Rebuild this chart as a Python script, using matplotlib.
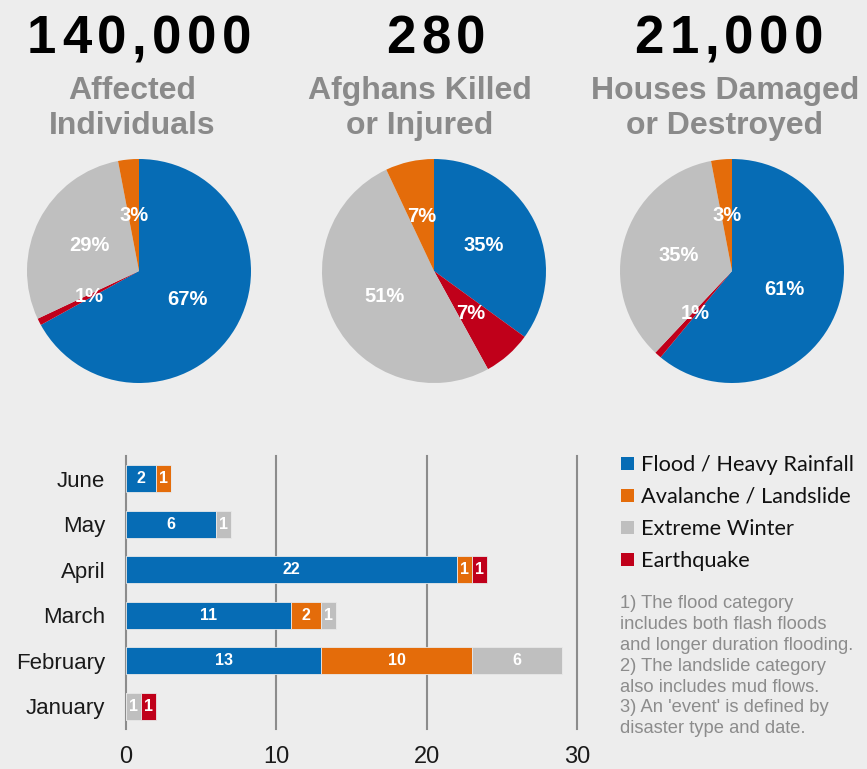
import matplotlib
matplotlib.use("Agg")
import matplotlib.pyplot as plt
from matplotlib.patches import Patch
import numpy as np

# colours per disaster type
categories = ["Flood / Heavy Rainfall", "Avalanche / Landslide", "Extreme Winter", "Earthquake"]
colors = ["#066cb5", "#e46c0a", "#bfbfbf", "#c0001a"]

# pie data, in clockwise order from 12 o'clock: flood, earthquake, winter, avalanche
pie_order = [0, 3, 2, 1]
pie_totals = ["140,000", "280", "21,000"]
pie_titles = [["Affected", "Individuals"], ["Afghans Killed", "or Injured"], ["Houses Damaged", "or Destroyed"]]
pie_affected = [67, 1, 29, 3]
pie_casualties = [35, 7, 51, 7]
pie_houses = [61, 1, 35, 3]

# bar data (events per month)
months = ["January", "February", "March", "April", "May", "June"]
flood = [0, 13, 11, 22, 6, 2]
avalanche = [0, 10, 2, 1, 0, 1]
winter = [1, 6, 1, 0, 1, 0]
quake = [1, 0, 0, 1, 0, 0]

notes = ("1) The flood category\nincludes both flash floods\nand longer duration flooding.\n"
         "2) The landslide category\nalso includes mud flows.\n"
         "3) An 'event' is defined by\ndisaster type and date.")

W, H = 867, 769
bg = "#ededed"
fig = plt.figure(figsize=(W / 100, H / 100), dpi=100, facecolor=bg)
plt.rcParams["font.family"] = ["Liberation Sans", "DejaVu Sans"]


def box(l, t, r, b):
    # pixel box (top-left origin) -> figure fraction rect
    return [l / W, 1 - b / H, (r - l) / W, (b - t) / H]


def spaced_text(cx, y, s, gap, **kw):
    # draw string char by char with extra letter spacing, centred at cx (pixels)
    r = fig.canvas.get_renderer()
    widths = []
    for ch in s:
        t = fig.text(0, 0, ch, **kw)
        widths.append(t.get_window_extent(r).width)
        t.remove()
    total = sum(widths) + gap * (len(s) - 1)
    x = cx - total / 2
    for ch, w in zip(s, widths):
        fig.text(x / W, 1 - y / H, ch, ha="left", va="baseline", **kw)
        x += w + gap


pie_sets = [pie_affected, pie_casualties, pie_houses]
pie_cx = [139, 434, 732]
title_cx = [139, 436, 729]
sub_cx = [132, 420, 725]

for i, vals in enumerate(pie_sets):
    cx = pie_cx[i]
    ax = fig.add_axes(box(cx - 112, 159, cx + 112, 383))
    ax.set_facecolor(bg)
    v = [vals[k] for k in range(4)]
    cols = [colors[k] for k in pie_order]
    ax.pie(v, colors=cols, startangle=90, counterclock=False,
           labels=[f"{p}%" for p in v], labeldistance=0.5,
           textprops=dict(color="white", fontsize=14.5, fontweight="bold", ha="center", va="center"),
           wedgeprops=dict(linewidth=0))
    ax.set_xlim(-1, 1)
    ax.set_ylim(-1, 1)

    spaced_text(title_cx[i], 53, pie_totals[i], 5.5, fontsize=38, fontweight="bold", color="black")
    for j, line in enumerate(pie_titles[i]):
        fig.text(sub_cx[i] / W, 1 - (99 + 35 * j) / H, line, ha="center", va="baseline",
                 fontsize=23, fontweight="bold", color="#8a8a8a")

# stacked bar chart
bx = fig.add_axes(box(126, 456, 577, 729))
bx.set_facecolor(bg)
y = np.arange(len(months))
left = np.zeros(len(months))
series = [flood, avalanche, winter, quake]
for k, s in enumerate(series):
    s = np.array(s)
    bars = bx.barh(y, s, left=left, height=0.59, color=colors[k], edgecolor="#e8e8e8", linewidth=0.6, zorder=3)
    bx.bar_label(bars, labels=[str(n) if n else "" for n in s], label_type="center",
                 color="white", fontsize=11.5, fontweight="bold")
    left += s

bx.set_xlim(0, 30)
bx.set_ylim(-0.5, 5.5)
bx.set_xticks([0, 10, 20, 30])
bx.set_yticks(y)
bx.set_yticklabels(months)
bx.tick_params(axis="y", length=0, pad=15, labelsize=16, labelcolor="#1a1a1a")
bx.tick_params(axis="x", length=0, pad=12, labelsize=17, labelcolor="#1a1a1a")
for sp in bx.spines.values():
    sp.set_visible(False)
for xv in [0, 10, 20, 30]:
    bx.axvline(xv, color="#8c8c8c", linewidth=1.5, zorder=1, clip_on=False)

# legend
handles = [Patch(facecolor=c, edgecolor="none") for c in colors]
fig.legend(handles, categories, loc="upper left", bbox_to_anchor=(621 / W, 1 - 455 / H),
           frameon=False, prop=dict(family=["Lato", "DejaVu Sans"], size=15.7),
           handlelength=0.58, handleheight=0.58, handletextpad=0.35, labelspacing=0.55,
           borderaxespad=0, borderpad=0, labelcolor="#111111")

fig.text(620 / W, 1 - 595 / H, notes, ha="left", va="top", fontsize=13.2,
         color="#8c8c8c", linespacing=1.3)

fig.savefig("out.png", dpi=100, facecolor=bg)
